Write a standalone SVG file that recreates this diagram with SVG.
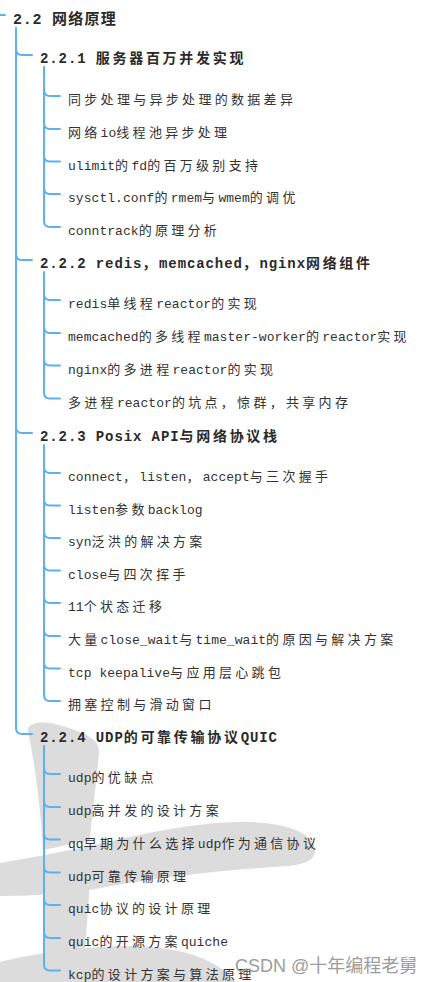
<svg xmlns="http://www.w3.org/2000/svg" width="438" height="982" viewBox="0 0 438 982">
<style>
text{fill:#333;font-family:"Liberation Mono","Noto Sans CJK SC",monospace}
.c{font-family:"Noto Sans CJK SC","Liberation Sans",sans-serif}
.r{font-size:15px;font-weight:bold;letter-spacing:.75px;fill:#2a2a2a}
.r .c{letter-spacing:1.25px}
.h{font-size:14px;font-weight:bold;letter-spacing:.9px;fill:#2a2a2a}
.h .c{letter-spacing:2.7px}
.t{font-size:13px;letter-spacing:.05px}
.t .c{letter-spacing:3.3px}
.ln{fill:none;stroke:#5db0f2;stroke-width:2;stroke-linecap:round}
.wm{fill:#dcdcdc}
.wt{font-family:"Liberation Sans","Noto Sans CJK SC",sans-serif;font-size:18px;fill:#9c9c9c;letter-spacing:0}
</style>
<rect width="438" height="982" fill="#fff"/>
<g id="watermark">
<path class="wm" d="M28,731 C27,722 45,720 62,726 C82,732 100,738 99,752 C97,780 92,810 90,840 L43,850 C41,810 35,765 28,731 Z"/>
<path class="wm" d="M0,863 C30,858 60,852 90,846 C150,832 200,821 250,822 C290,823 316,835 315,851 C314,862 302,864 290,866 C220,870 150,878 90,890 C60,894 30,896 0,896 Z"/>
<path class="wm" d="M43,885 L90,880 C88,910 86,935 85,955 L45,960 Z"/>
<path class="wm" d="M0,962 C40,952 100,944 150,947 C190,950 220,962 235,982 L0,982 Z"/>
</g>
<g id="connectors">
<path class="ln" d="M0,15 H5"/>
<path class="ln" d="M16,28 V728 Q16,734 22,734 H32"/>
<path class="ln" d="M16,49 Q16,55 22,55 H32 M16,254 Q16,260 22,260 H32 M16,427 Q16,433 22,433 H32"/>
<path class="ln" d="M44,67 V221 Q44,227 50,227 H60 M44,90 Q44,96 50,96 H60 M44,123 Q44,129 50,129 H60 M44,155.5 Q44,161.5 50,161.5 H60 M44,188 Q44,194 50,194 H60"/>
<path class="ln" d="M44,272 V392.5 Q44,398.5 50,398.5 H60 M44,294 Q44,300 50,300 H60 M44,327 Q44,333 50,333 H60 M44,359.5 Q44,365.5 50,365.5 H60"/>
<path class="ln" d="M44,445 V695 Q44,701 50,701 H60 M44,467 Q44,473 50,473 H60 M44,499.5 Q44,505.5 50,505.5 H60 M44,532 Q44,538 50,538 H60 M44,564.5 Q44,570.5 50,570.5 H60 M44,597 Q44,603 50,603 H60 M44,630 Q44,636 50,636 H60 M44,662.5 Q44,668.5 50,668.5 H60"/>
<path class="ln" d="M44,746 V964.5 Q44,970.5 50,970.5 H60 M44,768 Q44,774 50,774 H60 M44,801 Q44,807 50,807 H60 M44,833.5 Q44,839.5 50,839.5 H60 M44,866.5 Q44,872.5 50,872.5 H60 M44,899 Q44,905 50,905 H60 M44,932 Q44,938 50,938 H60"/>
</g>
<g id="n-root"><text class="r" x="13" y="24">2.2 <tspan class="c">网络原理</tspan></text></g>
<g id="n-221"><text class="h" x="40" y="63">2.2.1 <tspan class="c">服务器百万并发实现</tspan></text></g>
<g id="n-221-1"><text class="t" x="68" y="104"><tspan class="c">同步处理与异步处理的数据差异</tspan></text></g>
<g id="n-221-2"><text class="t" x="68" y="137"><tspan class="c">网络</tspan>io<tspan class="c">线程池异步处理</tspan></text></g>
<g id="n-221-3"><text class="t" x="68" y="169.5">ulimit<tspan class="c">的</tspan>fd<tspan class="c">的百万级别支持</tspan></text></g>
<g id="n-221-4"><text class="t" x="68" y="202">sysctl.conf<tspan class="c">的</tspan>rmem<tspan class="c">与</tspan>wmem<tspan class="c">的调优</tspan></text></g>
<g id="n-221-5"><text class="t" x="68" y="235">conntrack<tspan class="c">的原理分析</tspan></text></g>
<g id="n-222"><text class="h" x="40" y="268">2.2.2 redis<tspan class="c">，</tspan>memcached<tspan class="c">，</tspan>nginx<tspan class="c">网络组件</tspan></text></g>
<g id="n-222-1"><text class="t" x="68" y="308">redis<tspan class="c">单线程</tspan>reactor<tspan class="c">的实现</tspan></text></g>
<g id="n-222-2"><text class="t" x="68" y="341">memcached<tspan class="c">的多线程</tspan>master-worker<tspan class="c">的</tspan>reactor<tspan class="c">实现</tspan></text></g>
<g id="n-222-3"><text class="t" x="68" y="373.5">nginx<tspan class="c">的多进程</tspan>reactor<tspan class="c">的实现</tspan></text></g>
<g id="n-222-4"><text class="t" x="68" y="406.5"><tspan class="c">多进程</tspan>reactor<tspan class="c">的坑点，惊群，共享内存</tspan></text></g>
<g id="n-223"><text class="h" x="40" y="441">2.2.3 Posix API<tspan class="c">与网络协议栈</tspan></text></g>
<g id="n-223-1"><text class="t" x="68" y="481">connect<tspan class="c">，</tspan>listen<tspan class="c">，</tspan>accept<tspan class="c">与三次握手</tspan></text></g>
<g id="n-223-2"><text class="t" x="68" y="513.5">listen<tspan class="c">参数</tspan>backlog</text></g>
<g id="n-223-3"><text class="t" x="68" y="546">syn<tspan class="c">泛洪的解决方案</tspan></text></g>
<g id="n-223-4"><text class="t" x="68" y="578.5">close<tspan class="c">与四次挥手</tspan></text></g>
<g id="n-223-5"><text class="t" x="68" y="611">11<tspan class="c">个状态迁移</tspan></text></g>
<g id="n-223-6"><text class="t" x="68" y="644"><tspan class="c">大量</tspan>close_wait<tspan class="c">与</tspan>time_wait<tspan class="c">的原因与解决方案</tspan></text></g>
<g id="n-223-7"><text class="t" x="68" y="676.5">tcp keepalive<tspan class="c">与应用层心跳包</tspan></text></g>
<g id="n-223-8"><text class="t" x="68" y="709"><tspan class="c">拥塞控制与滑动窗口</tspan></text></g>
<g id="n-224"><text class="h" x="40" y="742">2.2.4 UDP<tspan class="c">的可靠传输协议</tspan>QUIC</text></g>
<g id="n-224-1"><text class="t" x="68" y="782">udp<tspan class="c">的优缺点</tspan></text></g>
<g id="n-224-2"><text class="t" x="68" y="815">udp<tspan class="c">高并发的设计方案</tspan></text></g>
<g id="n-224-3"><text class="t" x="68" y="847.5">qq<tspan class="c">早期为什么选择</tspan>udp<tspan class="c">作为通信协议</tspan></text></g>
<g id="n-224-4"><text class="t" x="68" y="880.5">udp<tspan class="c">可靠传输原理</tspan></text></g>
<g id="n-224-5"><text class="t" x="68" y="913">quic<tspan class="c">协议的设计原理</tspan></text></g>
<g id="n-224-6"><text class="t" x="68" y="946">quic<tspan class="c">的开源方案</tspan>quiche</text></g>
<g id="n-224-7"><text class="t" x="68" y="978.5">kcp<tspan class="c">的设计方案与算法原理</tspan></text></g>
<text class="wt" x="235" y="972">CSDN @十年编程老舅</text>
</svg>
